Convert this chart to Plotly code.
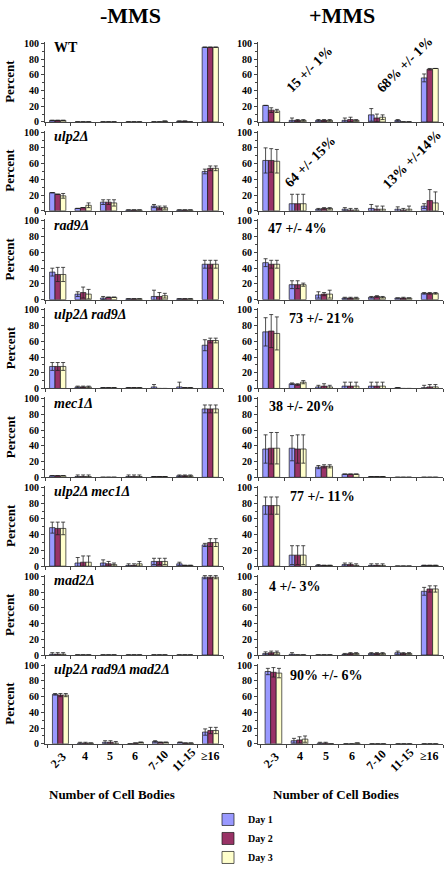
import plotly.graph_objects as go
from plotly.subplots import make_subplots

categories = ["2-3", "4", "5", "6", "7-10", "11-15", "≥16"]
strains = ["WT", "ulp2Δ", "rad9Δ", "ulp2Δ rad9Δ", "mec1Δ", "ulp2Δ mec1Δ", "mad2Δ", "ulp2Δ rad9Δ mad2Δ"]
days = ["Day 1", "Day 2", "Day 3"]
conditions = ["-MMS", "+MMS"]

# -MMS values (rows = strains, cols = categories)
minus_day1 = [
    [2, 0, 0, 0, 0, 1, 95],
    [23, 3, 11, 1, 6, 1, 50],
    [35, 7, 2, 1, 4, 1, 45],
    [28, 2, 1, 1, 2, 2, 55],
    [2, 1, 0, 1, 1, 2, 87],
    [49, 4, 4, 1, 6, 3, 27],
    [1, 0, 0, 0, 0, 0, 99],
    [63, 1, 2, 0, 3, 2, 15],
]
minus_day2 = [
    [2, 0, 0, 0, 0, 1, 95],
    [21, 4, 11, 1, 4, 1, 54],
    [32, 9, 3, 1, 4, 1, 45],
    [28, 2, 1, 1, 0, 1, 61],
    [2, 1, 0, 1, 1, 2, 87],
    [48, 5, 3, 1, 6, 1, 30],
    [1, 0, 0, 0, 0, 0, 99],
    [62, 1, 2, 1, 2, 1, 17],
]
minus_day3 = [
    [2, 0, 0, 0, 1, 0, 95],
    [19, 7, 10, 1, 4, 1, 54],
    [32, 7, 3, 1, 5, 1, 45],
    [28, 2, 1, 1, 0, 1, 61],
    [2, 1, 0, 1, 1, 2, 87],
    [48, 5, 2, 3, 6, 1, 30],
    [1, 0, 0, 0, 0, 0, 99],
    [62, 1, 1, 2, 2, 1, 17],
]
minus_err1 = [
    [0, 0, 0, 0, 0, 0, 0],
    [0, 0, 3, 0, 2, 0, 3],
    [5, 3, 2, 0, 8, 0, 5],
    [5, 1, 0, 0, 3, 6, 7],
    [0, 2, 0, 2, 0, 1, 5],
    [7, 7, 4, 2, 4, 2, 2],
    [2, 0, 0, 0, 0, 0, 2],
    [1, 1, 2, 0, 1, 0, 4],
]
minus_err2 = [
    [0, 0, 0, 0, 0, 0, 0],
    [0, 0, 3, 0, 2, 0, 3],
    [9, 7, 0, 0, 5, 0, 5],
    [5, 1, 0, 0, 0, 0, 3],
    [0, 2, 0, 2, 0, 1, 5],
    [8, 8, 3, 2, 4, 0, 5],
    [2, 0, 0, 0, 0, 0, 2],
    [2, 1, 2, 0, 0, 0, 4],
]
minus_err3 = [
    [0, 0, 0, 0, 0, 0, 0],
    [3, 3, 4, 0, 2, 0, 3],
    [9, 6, 0, 0, 3, 0, 5],
    [5, 1, 0, 0, 0, 0, 3],
    [0, 2, 0, 2, 0, 1, 5],
    [8, 8, 2, 3, 4, 0, 5],
    [2, 0, 0, 0, 0, 0, 2],
    [2, 0, 2, 0, 0, 0, 4],
]

# +MMS values
plus_day1 = [
    [21, 2, 2, 2, 9, 2, 56],
    [64, 9, 2, 2, 3, 2, 6],
    [47, 19, 6, 2, 3, 2, 8],
    [72, 6, 2, 3, 3, 1, 1],
    [36, 37, 13, 4, 1, 0, 0],
    [77, 14, 1, 2, 1, 0, 1],
    [2, 1, 0, 1, 2, 3, 81],
    [92, 4, 1, 0, 0, 0, 0],
]
plus_day2 = [
    [15, 2, 2, 3, 5, 0, 67],
    [64, 9, 3, 1, 2, 1, 13],
    [45, 19, 7, 2, 4, 2, 8],
    [73, 5, 3, 3, 3, 0, 2],
    [37, 36, 14, 4, 1, 0, 0],
    [77, 14, 1, 2, 1, 0, 1],
    [3, 0, 0, 2, 2, 2, 84],
    [91, 5, 1, 0, 0, 0, 0],
]
plus_day3 = [
    [14, 2, 2, 2, 6, 0, 68],
    [63, 9, 3, 1, 2, 2, 10],
    [45, 19, 7, 2, 3, 2, 8],
    [70, 8, 2, 3, 3, 0, 2],
    [37, 36, 14, 4, 1, 0, 0],
    [77, 14, 1, 1, 1, 0, 1],
    [3, 0, 0, 2, 2, 2, 84],
    [90, 6, 0, 1, 0, 0, 0],
]
plus_err1 = [
    [0, 3, 1, 3, 8, 1, 5],
    [16, 12, 1, 2, 5, 3, 3],
    [5, 5, 4, 1, 1, 0, 1],
    [18, 1, 2, 5, 5, 0, 3],
    [18, 16, 2, 0, 0, 0, 0],
    [11, 12, 1, 2, 2, 0, 0],
    [2, 2, 0, 1, 1, 2, 5],
    [4, 3, 1, 0, 0, 0, 0],
]
plus_err2 = [
    [3, 1, 1, 3, 5, 0, 1],
    [15, 12, 1, 2, 4, 2, 14],
    [5, 5, 2, 1, 1, 1, 1],
    [21, 1, 3, 5, 5, 0, 3],
    [20, 18, 2, 0, 0, 0, 0],
    [11, 12, 0, 2, 2, 0, 0],
    [2, 0, 0, 1, 1, 1, 4],
    [6, 4, 1, 0, 0, 0, 0],
]
plus_err3 = [
    [2, 1, 1, 1, 3, 0, 0],
    [15, 12, 1, 2, 4, 4, 14],
    [5, 2, 5, 1, 1, 0, 1],
    [21, 2, 2, 5, 5, 0, 3],
    [20, 18, 2, 0, 0, 0, 0],
    [11, 12, 0, 2, 2, 0, 0],
    [2, 0, 0, 1, 1, 1, 4],
    [6, 4, 0, 0, 0, 0, 0],
]

# +MMS panel notes
plus_notes = [
    ["15 +/- 1%", "68% +/- 1%"],
    ["64 +/- 15%", "13% +/-14%"],
    ["47 +/- 4%"],
    ["73 +/- 21%"],
    ["38 +/- 20%"],
    ["77 +/- 11%"],
    ["4 +/- 3%"],
    ["90% +/- 6%"],
]

# ---------------- styling / layout ----------------
W, H = 446, 872
FONT = "Liberation Serif"
colors = ["#9999FF", "#993366", "#FFFFCC"]
col_px = [(45, 223), (258, 443)]
ROW_TOP0, ROW_PITCH, ROW_H = 38.4, 90.4, 81.6

def row_px(i):
    top = ROW_TOP0 + i * ROW_PITCH
    return top, top + ROW_H

data_sets = [
    ([minus_day1, minus_day2, minus_day3], [minus_err1, minus_err2, minus_err3]),
    ([plus_day1, plus_day2, plus_day3], [plus_err1, plus_err2, plus_err3]),
]

fig = make_subplots(rows=8, cols=2)

for c in range(2):
    vals_days, err_days = data_sets[c]
    for r in range(8):
        for d in range(3):
            fig.add_trace(
                go.Bar(
                    x=categories,
                    y=vals_days[d][r],
                    name=days[d],
                    legendgroup=days[d],
                    showlegend=(r == 0 and c == 0),
                    marker=dict(color=colors[d], line=dict(color="#1a1a1a", width=0.7)),
                    error_y=dict(type="data", array=err_days[d][r], visible=True,
                                 color="#222222", thickness=0.8, width=2),
                ),
                row=r + 1, col=c + 1,
            )

def ax_idx(r, c):
    return r * 2 + c + 1

for r in range(8):
    top, bot = row_px(r)
    for c in range(2):
        i = ax_idx(r, c)
        xs = "" if i == 1 else str(i)
        x0, x1 = col_px[c]
        fig.layout["xaxis" + xs].update(
            domain=[x0 / W, x1 / W], showline=True, linecolor="#444", linewidth=1,
            ticks="outside", ticklen=3, tickcolor="#444", tickson="boundaries",
            showticklabels=False, showgrid=False, zeroline=False, type="category",
        )
        fig.layout["yaxis" + xs].update(
            domain=[1 - bot / H, 1 - top / H], range=[0, 102], tick0=0, dtick=20,
            showline=True, linecolor="#444", linewidth=1, ticks="outside", ticklen=3,
            tickcolor="#444", showgrid=False, zeroline=False,
            minor=dict(dtick=10, ticks="outside", ticklen=2, tickcolor="#444"),
            tickfont=dict(family=FONT, size=10, color="black", weight="bold"),
        )

annotations = []
# column titles
for c, txt in enumerate(conditions):
    annotations.append(dict(text=txt, x=[130, 342][c] / W, y=1 - 12 / H, xref="paper", yref="paper",
                            showarrow=False, xanchor="center", yanchor="middle",
                            font=dict(family=FONT, size=22, color="black", weight="bold")))

for r in range(8):
    i = ax_idx(r, 0)
    xs = "" if i == 1 else str(i)
    # Percent label
    annotations.append(dict(text="Percent", x=10 / W, y=0.5, xref="paper", yref="y" + xs + " domain",
                            showarrow=False, textangle=-90, xanchor="center", yanchor="middle",
                            font=dict(family=FONT, size=13, color="black", weight="bold")))
    # strain label
    annotations.append(dict(text=strains[r], x=0.039, y=0.925, xref="x" + xs + " domain",
                            yref="y" + xs + " domain", showarrow=False, xanchor="left", yanchor="middle",
                            font=dict(family=FONT, size=14, color="black", weight="bold",
                                      style="normal" if strains[r] == "WT" else "italic")))

# +MMS notes positions (domain fractions)
note_pos = [
    [(0.276, 0.66, -45, "center"), (0.795, 0.71, -45, "center")],
    [(0.281, 0.62, -45, "center"), (0.832, 0.64, -45, "center")],
    [(0.043, 0.89, 0, "left")],
    [(0.157, 0.875, 0, "left")],
    [(0.049, 0.88, 0, "left")],
    [(0.162, 0.87, 0, "left")],
    [(0.049, 0.85, 0, "left")],
    [(0.162, 0.85, 0, "left")],
]
for r in range(8):
    i = ax_idx(r, 1)
    for txt, (xd, yd, ang, xa) in zip(plus_notes[r], note_pos[r]):
        annotations.append(dict(text=txt, x=xd, y=yd, xref="x%d domain" % i, yref="y%d domain" % i,
                                showarrow=False, textangle=ang, xanchor=xa, yanchor="middle",
                                font=dict(family=FONT, size=14, color="black", weight="bold")))

# bottom category labels (positioned by category index on the category axis)
rotated = {"2-3", "7-10", "11-15"}
for c in range(2):
    i = ax_idx(7, c)
    for k, cat in enumerate(categories):
        rot = cat in rotated
        annotations.append(dict(text=cat, x=k, y=1 - (769 if rot else 765) / H,
                                xref="x%d" % i, yref="paper", showarrow=False,
                                textangle=-45 if rot else 0, xanchor="center", yanchor="middle",
                                xshift=-2 if rot else 0,
                                font=dict(family=FONT, size=12, color="black", weight="bold")))
    annotations.append(dict(text="Number of Cell Bodies", x=[112, 336][c] / W, y=1 - 804 / H,
                            xref="paper", yref="paper", showarrow=False, xanchor="center", yanchor="middle",
                            font=dict(family=FONT, size=13, color="black", weight="bold")))

fig.update_layout(
    width=W, height=H, margin=dict(l=0, r=0, t=0, b=0),
    paper_bgcolor="white", plot_bgcolor="white",
    barmode="group", bargap=0.36, bargroupgap=0,
    annotations=annotations,
    showlegend=True,
    legend=dict(x=208 / W, y=1 - 815 / H, xanchor="left", yanchor="top",
                font=dict(family=FONT, size=10, color="black", weight="bold"),
                bgcolor="rgba(0,0,0,0)", tracegroupgap=0, traceorder="normal"),
)

fig.write_html(
    "out.html",
    config={"displayModeBar": False},
    post_script="document.body.style.margin='0';document.body.style.overflow='hidden';"
                "document.documentElement.style.overflow='hidden';",
)
